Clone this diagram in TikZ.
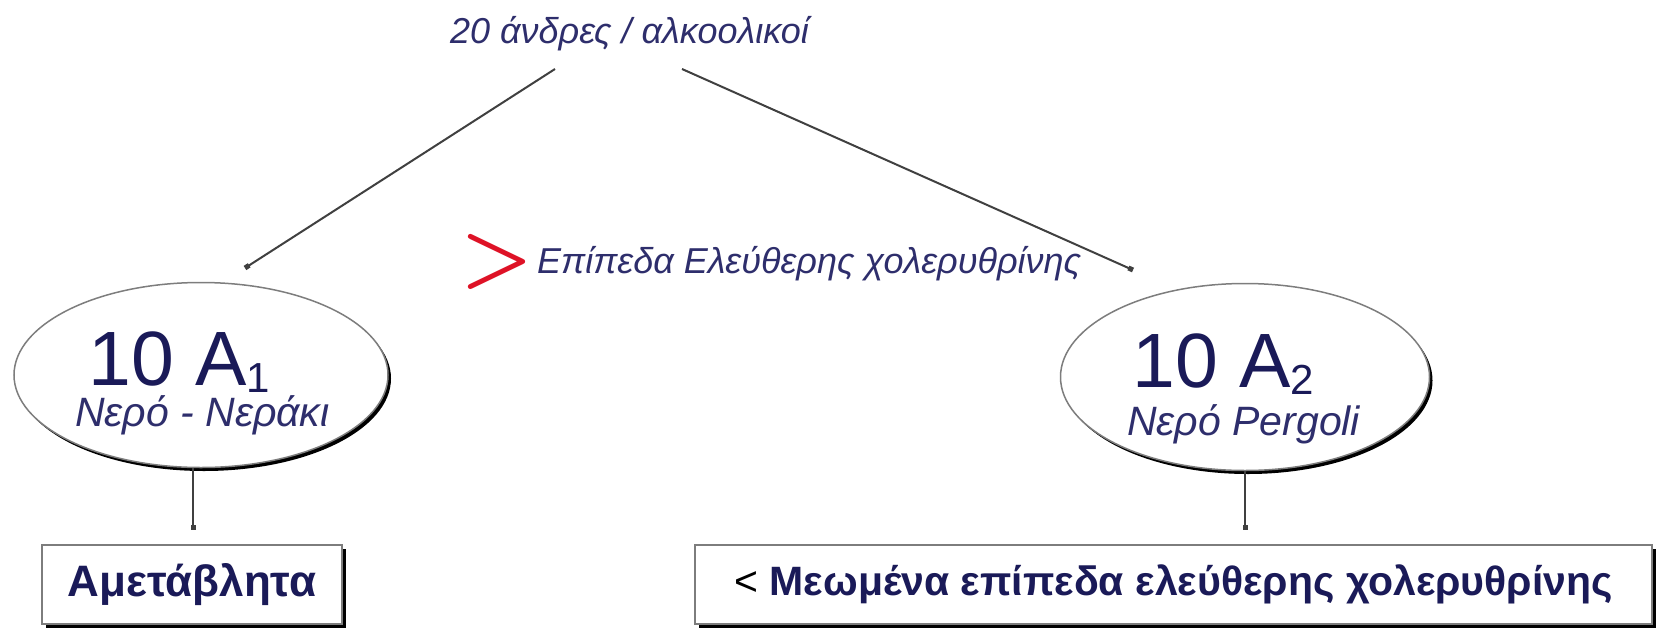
\documentclass[tikz,border=0pt]{standalone}
\usepackage{graphicx}
\usepackage{fontspec}
\setmainfont{Liberation Sans}
\usetikzlibrary{shapes.geometric,shadows,arrows.meta}
\definecolor{navy}{RGB}{26,26,88}
\definecolor{navyit}{RGB}{46,46,108}
\definecolor{lineg}{RGB}{64,64,64}
\definecolor{ellg}{RGB}{125,125,125}
\definecolor{redm}{RGB}{222,18,38}
\begin{document}
\begin{tikzpicture}[x=1pt,y=-1pt,
  conn/.style={draw=lineg,line width=2pt,-{Square[length=5pt,width=5pt]}},
  oval/.style={ellipse,draw=ellg,line width=1.5pt,fill=white,inner sep=0pt,
    drop shadow={shadow xshift=3pt,shadow yshift=-3.5pt,opacity=1,fill=black}},
  panel/.style={rectangle,draw=ellg,line width=1.5pt,fill=white,inner sep=0pt,
    drop shadow={shadow xshift=3.5pt,shadow yshift=-3.5pt,opacity=1,fill=black},
    text=navy},
  lbl/.style={inner sep=0pt,anchor=base west},
  itlbl/.style={lbl,text=navyit,font=\fontsize{36}{42}\selectfont\itshape},
  biglbl/.style={lbl,text=navy,font=\fontsize{77}{92}\selectfont},
  sublbl/.style={lbl,text=navyit,font=\fontsize{41}{48}\selectfont\itshape}]
\useasboundingbox (0,0) rectangle (1657,627);

% title and its two connectors
\node[itlbl] (title) at (450,43) {20 άνδρες / αλκοολικοί};
\coordinate (t1) at (555,69);
\coordinate (t2) at (682,69);
\coordinate (d1) at (245,268);
\coordinate (d2) at (1133,270);
\draw[conn] (t1) -- (d1);
\draw[conn] (t2) -- (d2);

% middle note
\node[inner sep=0pt,text=redm] (gt) at (497,262) {\resizebox{73pt}{48pt}{\boldmath$>$}};
\node[itlbl] (lvl) at (537,273) {Επίπεδα Ελεύθερης χολερυθρίνης};

% ellipses
\node[oval,minimum width=374pt,minimum height=185pt] (e1) at (201,375) {};
\node[oval,minimum width=369pt,minimum height=187pt] (e2) at (1245,377) {};
\node[biglbl] (e1a) at (88,385) {10 A\raisebox{-7pt}{\fontsize{42}{42}\selectfont 1}};
\node[sublbl] (e1b) at (75,426) {Νερό - Νεράκι};
\node[biglbl] (e2a) at (1132,387) {10 A\raisebox{-7pt}{\fontsize{42}{42}\selectfont 2}};
\node[sublbl] (e2b) at (1127,435) {Νερό Pergoli};

% result boxes
\node[panel,minimum width=300pt,minimum height=79pt,font=\fontsize{44}{52}\selectfont\bfseries] (b1) at (192,584.5) {Αμετάβλητα};
\node[panel,minimum width=957pt,minimum height=79pt,font=\fontsize{41}{50}\selectfont\bfseries] (b2) at (1173.5,584.5) {{\mdseries\color{black}<} Μεωμένα επίπεδα ελεύθερης χολερυθρίνης};

\coordinate (v1) at (193,530);
\coordinate (v2) at (1245,530);
\draw[conn] (v1 |- e1.south) -- (v1);
\draw[conn] (v2 |- e2.south) -- (v2);
\end{tikzpicture}
\end{document}
